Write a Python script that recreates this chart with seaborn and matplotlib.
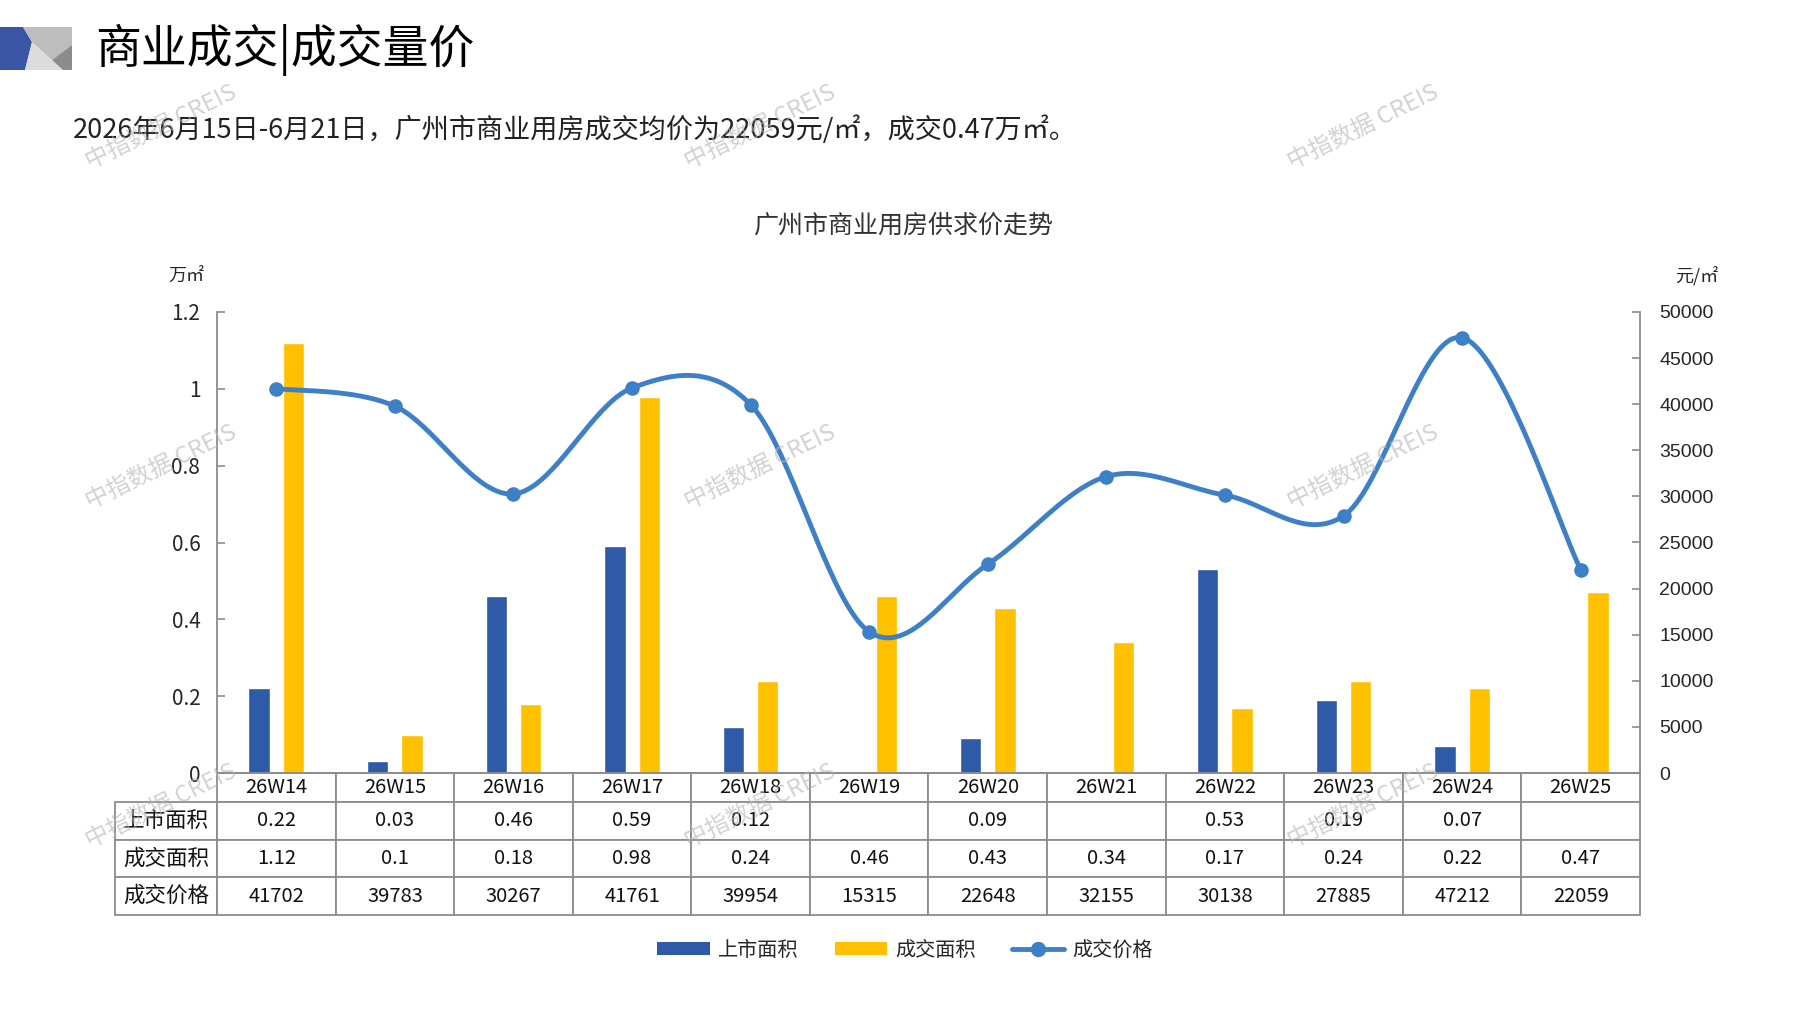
import numpy as np
import pandas as pd
import matplotlib
matplotlib.use("Agg")
import matplotlib.pyplot as plt
import seaborn as sns
from matplotlib.patches import Patch, Polygon
from matplotlib.lines import Line2D
from matplotlib.ticker import FuncFormatter, MultipleLocator

weeks = ["26W14", "26W15", "26W16", "26W17", "26W18", "26W19",
         "26W20", "26W21", "26W22", "26W23", "26W24", "26W25"]
listed_area = [0.22, 0.03, 0.46, 0.59, 0.12, np.nan, 0.09, np.nan, 0.53, 0.19, 0.07, np.nan]
sold_area = [1.12, 0.1, 0.18, 0.98, 0.24, 0.46, 0.43, 0.34, 0.17, 0.24, 0.22, 0.47]
price = [41702, 39783, 30267, 41761, 39954, 15315, 22648, 32155, 30138, 27885, 47212, 22059]
series_names = ["上市面积", "成交面积", "成交价格"]

title = "商业成交|成交量价"
subtitle = "2026年6月15日-6月21日，广州市商业用房成交均价为22059元/㎡，成交0.47万㎡。"
chart_title = "广州市商业用房供求价走势"
watermark = "中指数据 CREIS"

BLUE = "#2f5aa8"
YELLOW = "#ffc000"
LINE = "#3d80c8"
GREY = "#8c8c8c"

sns.set_theme(style="white")
plt.rcParams["font.family"] = ["Noto Sans CJK SC", "DejaVu Sans"]
plt.rcParams["axes.unicode_minus"] = False

W, H = 1797, 1010
fig = plt.figure(figsize=(W / 100, H / 100), dpi=100)


def fx(px):
    return px / W


def fy(py):
    return 1 - py / H


def smooth_path(values, n=40):
    # excel-style smoothed line (bezier through the points)
    pts = np.column_stack([np.arange(len(values), dtype=float), np.asarray(values, float)])
    pts = np.vstack([pts[0], pts, pts[-1]])
    t = np.linspace(0, 1, n)[:, None]
    segs = []
    for i in range(1, len(pts) - 2):
        p0, p1, p2, p3 = pts[i - 1], pts[i], pts[i + 1], pts[i + 2]
        c1 = p1 + (p2 - p0) / 6
        c2 = p2 - (p3 - p1) / 6
        seg = (1 - t) ** 3 * p1 + 3 * (1 - t) ** 2 * t * c1 + 3 * (1 - t) * t ** 2 * c2 + t ** 3 * p2
        segs.append(seg if i == 1 else seg[1:])
    return np.vstack(segs)


# header logo
for poly, col in [
    ([(0, 27), (23, 27), (32, 42), (25, 70), (0, 70)], "#3a55a4"),
    ([(32, 42), (25, 70), (63, 70)], "#dcdcdc"),
    ([(23, 27), (72, 27), (72, 45), (52, 60), (32, 42)], "#bdbdbd"),
    ([(52, 60), (72, 45), (72, 70), (63, 70)], "#8c8c8c"),
]:
    fig.patches.append(Polygon([(fx(x), fy(y)) for x, y in poly], closed=True,
                               facecolor=col, edgecolor="none", transform=fig.transFigure))

fig.text(fx(95), fy(50), title, fontsize=33, va="center", ha="left", color="black")
fig.text(fx(73), fy(130), subtitle, fontsize=19.5, va="center", ha="left", color="#222222")
fig.text(fx(904), fy(226), chart_title, fontsize=18, va="center", ha="center", color="#333333")
fig.text(fx(186), fy(276), "万㎡", fontsize=13, va="center", ha="center")
fig.text(fx(1697), fy(276), "元/㎡", fontsize=13, va="center", ha="center")

# main axes
ax = fig.add_axes([fx(217), fy(773), fx(1640) - fx(217), fy(312) - fy(773)])

bars = pd.DataFrame({
    "week": weeks * 2,
    "series": [series_names[0]] * len(weeks) + [series_names[1]] * len(weeks),
    "value": listed_area + sold_area,
}).dropna()

sns.barplot(data=bars, x="week", y="value", hue="series", order=weeks,
            hue_order=series_names[:2], palette=[BLUE, YELLOW], saturation=1,
            width=0.58, gap=0.38, errorbar=None, legend=False, ax=ax)

ax.set_xlim(-0.5, len(weeks) - 0.5)
ax.set_ylim(0, 1.2)
ax.yaxis.set_major_locator(MultipleLocator(0.2))
ax.yaxis.set_major_formatter(FuncFormatter(lambda v, p: f"{v:g}"))
ax.set_xlabel("")
ax.set_ylabel("")
ax.tick_params(axis="x", length=0, labelbottom=False)
ax.tick_params(axis="y", left=True, direction="in", length=6, width=1.2,
               color=GREY, pad=12, labelsize=15)
for side in ["top", "right"]:
    ax.spines[side].set_visible(False)
for side in ["left", "bottom"]:
    ax.spines[side].set_color(GREY)
    ax.spines[side].set_linewidth(1.3)

ax2 = ax.twinx()
curve = smooth_path(price)
ax2.plot(curve[:, 0], curve[:, 1], color=LINE, lw=3.5, solid_capstyle="round", zorder=3)
sns.scatterplot(x=np.arange(len(price)), y=price, color=LINE, s=110,
                edgecolor=LINE, linewidth=0, ax=ax2, zorder=4)
ax2.set_ylim(0, 50000)
ax2.set_xlim(-0.5, len(weeks) - 0.5)
ax2.yaxis.set_major_locator(MultipleLocator(5000))
ax2.set_ylabel("")
ax2.tick_params(axis="y", right=True, direction="in", length=6, width=1.2,
                color=GREY, pad=14, labelsize=14)
for lab in ax2.get_yticklabels():
    lab.set_fontfamily(["Liberation Sans", "DejaVu Sans"])
for side in ["top", "left", "bottom"]:
    ax2.spines[side].set_visible(False)
ax2.spines["right"].set_color(GREY)
ax2.spines["right"].set_linewidth(1.3)

# data table under the chart
def fmt(v):
    return "" if pd.isna(v) else f"{v:g}"


cell_text = [[""] + weeks,
             [series_names[0]] + [fmt(v) for v in listed_area],
             [series_names[1]] + [fmt(v) for v in sold_area],
             [series_names[2]] + [str(v) for v in price]]
ax_w = 1640 - 217
ax_h = 773 - 312
tbl = ax.table(cellText=cell_text, cellLoc="center",
               colWidths=[102 / ax_w] + [1 / len(weeks)] * len(weeks),
               bbox=[(115 - 217) / ax_w, -(915 - 773) / ax_h, (1640 - 115) / ax_w, (915 - 773) / ax_h])
tbl.auto_set_font_size(False)
for (r, c), cell in tbl.get_celld().items():
    cell.set_edgecolor(GREY)
    cell.set_linewidth(1.3)
    cell.set_height(29 if r == 0 else 37.7)
    cell.get_text().set_fontsize(15.5 if c == 0 else 14.5)
    cell.get_text().set_color("#111111")
tbl[0, 0].visible_edges = "open"

# legend
handles = [Patch(facecolor=BLUE, edgecolor="none"),
           Patch(facecolor=YELLOW, edgecolor="none"),
           Line2D([], [], color=LINE, lw=3.5, marker="o", markersize=10)]
fig.legend(handles=handles, labels=series_names, loc="center",
           bbox_to_anchor=(fx(905), fy(950)), ncol=3, frameon=False, fontsize=14.5,
           handlelength=2.6, handleheight=0.6, columnspacing=1.8, handletextpad=0.4)

# watermarks
for wy in [127, 467, 806]:
    for wx in [161, 760, 1363]:
        fig.text(fx(wx), fy(wy), watermark, fontsize=17, rotation=26, color="#b5b5b5",
                 alpha=0.6, ha="center", va="center", zorder=20)

fig.savefig("out.png", dpi=100)
